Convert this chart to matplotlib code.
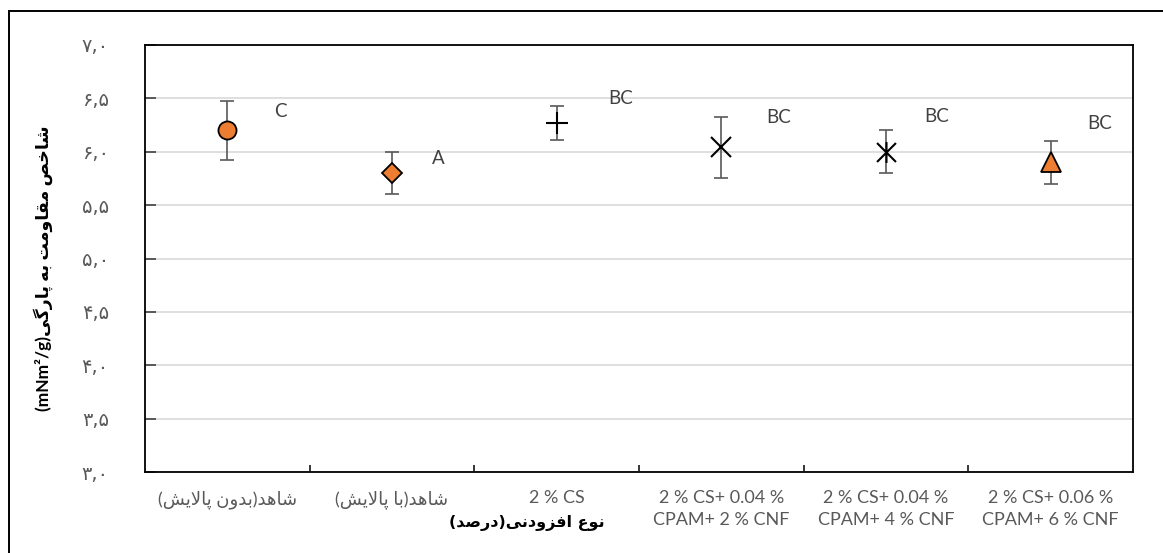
import matplotlib
matplotlib.use("Agg")
import matplotlib.pyplot as plt
from matplotlib.patches import Rectangle
from matplotlib.path import Path
from matplotlib.ticker import FixedLocator

# data
categories = ["شاهد(بدون پالایش)", "شاهد(با پالایش)", "2 % CS",
              "2 % CS+ 0.04 %\nCPAM+ 2 % CNF", "2 % CS+ 0.04 %\nCPAM+ 4 % CNF",
              "2 % CS+ 0.06 %\nCPAM+ 6 % CNF"]
values = [6.20, 5.80, 6.27, 6.04, 6.00, 5.90]
errors = [0.28, 0.20, 0.16, 0.29, 0.20, 0.20]
letters = ["C", "A", "BC", "BC", "BC", "BC"]
letter_heights = [6.38, 5.94, 6.50, 6.32, 6.33, 6.26]
yticks = [3.0, 3.5, 4.0, 4.5, 5.0, 5.5, 6.0, 6.5, 7.0]

ORANGE = "#ED7D31"
GREY = "#595959"

# minimal Persian shaping (matplotlib has no complex text layout)
FORMS = {
    "ا": ("\uFE8D", "\uFE8E", None, None),
    "ب": ("\uFE8F", "\uFE90", "\uFE91", "\uFE92"),
    "ت": ("\uFE95", "\uFE96", "\uFE97", "\uFE98"),
    "خ": ("\uFEA5", "\uFEA6", "\uFEA7", "\uFEA8"),
    "د": ("\uFEA9", "\uFEAA", None, None),
    "ر": ("\uFEAD", "\uFEAE", None, None),
    "ز": ("\uFEAF", "\uFEB0", None, None),
    "ش": ("\uFEB5", "\uFEB6", "\uFEB7", "\uFEB8"),
    "ص": ("\uFEB9", "\uFEBA", "\uFEBB", "\uFEBC"),
    "ع": ("\uFEC9", "\uFECA", "\uFECB", "\uFECC"),
    "ف": ("\uFED1", "\uFED2", "\uFED3", "\uFED4"),
    "ق": ("\uFED5", "\uFED6", "\uFED7", "\uFED8"),
    "ل": ("\uFEDD", "\uFEDE", "\uFEDF", "\uFEE0"),
    "م": ("\uFEE1", "\uFEE2", "\uFEE3", "\uFEE4"),
    "ن": ("\uFEE5", "\uFEE6", "\uFEE7", "\uFEE8"),
    "ه": ("\uFEE9", "\uFEEA", "\uFEEB", "\uFEEC"),
    "و": ("\uFEED", "\uFEEE", None, None),
    "ی": ("\uFBFC", "\uFBFD", "\uFBFE", "\uFBFF"),
    "پ": ("\uFB56", "\uFB57", "\uFB58", "\uFB59"),
    "گ": ("\uFB92", "\uFB93", "\uFB94", "\uFB95"),
    "\uFEFB": ("\uFEFB", "\uFEFC", None, None),
}


def shape(s):
    s = s.replace("لا", "\uFEFB")
    out = []
    for i, c in enumerate(s):
        if c not in FORMS:
            out.append(c)
            continue
        prev = s[i - 1] if i > 0 else ""
        nxt = s[i + 1] if i + 1 < len(s) else ""
        jp = prev in FORMS and FORMS[prev][2] is not None
        jn = nxt in FORMS and FORMS[c][2] is not None
        iso, fin, ini, med = FORMS[c]
        out.append(med if jp and jn else fin if jp else ini if jn else iso)
    return "".join(out)


def rtl(s):
    if not any(c in FORMS for c in s):
        return s
    swap = {"(": ")", ")": "("}
    return "".join(swap.get(c, c) for c in reversed(shape(s)))


def fa_num(v):
    digits = "۰۱۲۳۴۵۶۷۸۹"
    return "".join(digits[int(c)] if c.isdigit() else "," for c in f"{v:.1f}")


# Excel style asterisk: X with a vertical stroke
star = Path([(-1, -1), (1, 1), (-1, 1), (1, -1), (0, -1.1), (0, 1.1)],
            [Path.MOVETO, Path.LINETO] * 3)
markers = [
    dict(marker="o", ms=13, mfc=ORANGE, mec="black", mew=1.3),
    dict(marker="D", ms=10.5, mfc=ORANGE, mec="black", mew=1.3),
    dict(marker="+", ms=16, mfc="black", mec="black", mew=1.5),
    dict(marker="x", ms=15, mfc="black", mec="black", mew=1.5),
    dict(marker=star, ms=15, mfc="black", mec="black", mew=1.5),
    dict(marker="^", ms=15, mfc=ORANGE, mec="black", mew=1.3),
]
letter_dx = [0.32, 0.28, 0.39, 0.35, 0.31, 0.30]

fonts = ["Lato", "DejaVu Sans"]
fig = plt.figure(figsize=(11.63, 5.53), dpi=100)
ax = fig.add_axes([145 / 1163, 81 / 553, 988 / 1163, 427 / 553])

x = list(range(len(values)))
for i in x:
    ax.errorbar(x[i], values[i], yerr=errors[i], fmt="none", ecolor=GREY,
                elinewidth=1.2, capsize=5, capthick=1.2, zorder=3)
    ax.plot(x[i], values[i], linestyle="none", zorder=4, **markers[i])
    ax.text(x[i] + letter_dx[i], letter_heights[i], letters[i], ha="center",
            va="center", fontsize=13.5, color="#404040", family=fonts)

ax.set_xlim(-0.5, len(values) - 0.5)
ax.set_ylim(3.0, 7.0)
ax.set_yticks(yticks)
ax.set_yticklabels([fa_num(v) for v in yticks], family=["DejaVu Sans"], fontsize=14,
                   color=GREY)
ax.set_xticks(x)
ax.set_xticklabels([rtl(c) for c in categories], family=fonts, fontsize=13,
                   color=GREY, linespacing=1.45)
ax.xaxis.set_minor_locator(FixedLocator([i + 0.5 for i in x[:-1]]))
ax.tick_params(axis="x", which="major", length=0, pad=13)
ax.tick_params(axis="x", which="minor", direction="in", length=5, width=1.1, color="black")
ax.tick_params(axis="y", direction="in", length=8, width=1.1, color="#333333", pad=26)
ax.grid(axis="y", color="#D9D9D9", linewidth=1.2)
ax.set_axisbelow(True)
for sp in ax.spines.values():
    sp.set_linewidth(1.3)
    sp.set_color("black")

ylabel = "(mNm²/g)" + rtl("شاخص مقاومت به پارگی")
fig.text(43 / 1163, 1 - 268 / 553, ylabel, rotation=90, ha="center", va="center",
         fontsize=12.5, fontweight="bold", family=fonts)
fig.text(527 / 1163, 1 - 523 / 553, rtl("نوع افزودنی(درصد)"), ha="center", va="center",
         fontsize=11.5, fontweight="bold", family=["DejaVu Sans"])

# outer chart border
fig.add_artist(Rectangle((9 / 1163, -0.1), 1.2, 0.1 + (553 - 11) / 553,
                         transform=fig.transFigure, fill=False, edgecolor="black",
                         linewidth=1.4))

fig.savefig("out.png", dpi=100)
